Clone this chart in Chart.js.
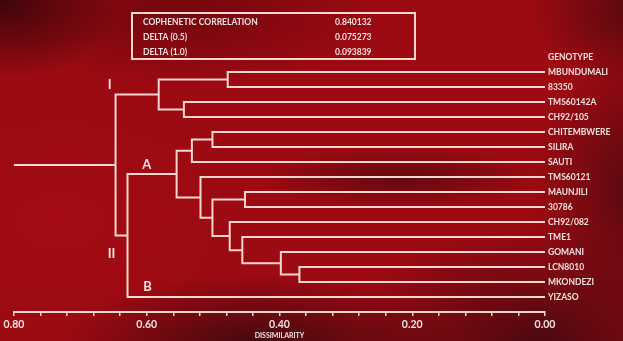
<!DOCTYPE html>
<html>
<head>
<meta charset="utf-8">
<script src="https://cdn.jsdelivr.net/npm/chart.js@4/dist/chart.umd.min.js"></script>
<style>
  html, body { margin: 0; padding: 0; }
  body {
    width: 623px; height: 341px; overflow: hidden;
    background:
      radial-gradient(ellipse 120px 80px at 0px 0px, rgba(50,4,10,0.9), transparent),
      radial-gradient(ellipse 200px 70px at 260px 345px, rgba(50,8,14,0.85), transparent),
      radial-gradient(ellipse 200px 120px at 540px 345px, rgba(55,8,16,0.8), transparent),
      radial-gradient(ellipse 110px 140px at 640px 190px, rgba(55,8,16,0.7), transparent),
      radial-gradient(ellipse 140px 30px at 400px 178px, rgba(50,8,14,0.55), transparent),
      radial-gradient(ellipse 110px 80px at 640px 10px, rgba(60,8,14,0.75), transparent),
      radial-gradient(ellipse 200px 70px at 180px 15px, rgba(80,4,10,0.55), transparent),
      radial-gradient(ellipse 160px 100px at 60px 220px, rgba(180,14,20,0.35), transparent),
      #9c0a12;
  }
  #wrap { position: relative; width: 623px; height: 341px; }
</style>
</head>
<body>
<div id="wrap"><canvas id="dendro"></canvas></div>
<script>
// Дендрограма на генотипове
const genotypes = ['MBUNDUMALI', '83350', 'TMS60142A', 'CH92/105', 'CHITEMBWERE', 'SILIRA',
  'SAUTI', 'TMS60121', 'MAUNJILI', '30786', 'CH92/082', 'TME1', 'GOMANI', 'LCN8010',
  'MKONDEZI', 'YIZASO'];
const headerLabel = 'GENOTYPE';

// сливания като в hclust: -k = лист k, k = предишно сливане k
const mergeLeft  = [-14, -13, -9, -12, -11, -1, -5, 3, -8, 7, -3, 10, 6, 12, 13];
const mergeRight = [-15,   1, -10,  2,   4, -2, -6, 5,  8, -7, -4,  9, 11, -16, 14];
const mergeHeight = [0.370, 0.398, 0.452, 0.456, 0.475, 0.478, 0.501, 0.501, 0.519,
  0.532, 0.544, 0.555, 0.582, 0.629, 0.647];

const xTickLabels = [0.80, 0.60, 0.40, 0.20, 0.00];
const statNames = ['COPHENETIC CORRELATION', 'DELTA (0.5)', 'DELTA (1.0)'];
const statValues = ['0.840132', '0.075273', '0.093839'];
const clusterNames = ['I', 'II', 'A', 'B'];

// позиции на надписите в координати на скалите
const clusterPos = [[0.656, 0.87], [0.653, 12.1], [0.600, 6.2], [0.599, 14.3]];

const lineColor = 'rgb(246, 214, 206)';
const textColor = 'rgb(244, 226, 222)';
const fontFamily = 'Lato, "Open Sans", sans-serif';

// височина и позиция на всеки възел
const nodeY = [];
function childPos(c) {
  if (c < 0) return { h: 0, y: -c - 1 };
  return { h: mergeHeight[c - 1], y: nodeY[c - 1] };
}

const datasets = [];
mergeLeft.forEach((l, i) => {
  const a = childPos(l);
  const b = childPos(mergeRight[i]);
  const h = mergeHeight[i];
  nodeY.push((a.y + b.y) / 2);
  datasets.push({
    data: [{ x: a.h, y: a.y }, { x: h, y: a.y }, { x: h, y: b.y }, { x: b.h, y: b.y }]
  });
});
// стъбло на корена до края на оста
const rootY = nodeY[nodeY.length - 1];
datasets.push({ data: [{ x: mergeHeight[mergeHeight.length - 1], y: rootY }, { x: 0.8, y: rootY }] });

datasets.forEach(d => {
  d.showLine = true;
  d.borderColor = lineColor;
  d.borderWidth = 2;
  d.pointRadius = 0;
  d.tension = 0;
  d.fill = false;
});

const overlay = {
  id: 'overlay',
  afterDraw(chart) {
    const ctx = chart.ctx;
    const xs = chart.scales.x, ys = chart.scales.y;
    ctx.save();
    // надписи на клъстерите
    ctx.fillStyle = textColor;
    ctx.font = 'bold 13px ' + fontFamily;
    ctx.textAlign = 'center';
    ctx.textBaseline = 'middle';
    clusterNames.forEach((n, i) => {
      ctx.fillText(n, xs.getPixelForValue(clusterPos[i][0]), ys.getPixelForValue(clusterPos[i][1]));
    });
    // таблица със статистики
    ctx.strokeStyle = lineColor;
    ctx.lineWidth = 2;
    ctx.strokeRect(132, 13, 283, 46);
    ctx.font = 'bold 8.5px ' + fontFamily;
    ctx.textAlign = 'left';
    statNames.forEach((n, i) => {
      const y = 22.5 + i * 15;
      ctx.fillText(n, 143, y);
      ctx.fillText(statValues[i], 335, y);
    });
    ctx.restore();
  }
};

new Chart(document.getElementById('dendro'), {
  type: 'scatter',
  data: { datasets: datasets },
  plugins: [overlay],
  options: {
    responsive: true,
    maintainAspectRatio: false,
    animation: false,
    layout: { padding: { top: 57, left: 14, right: 0, bottom: 0 } },
    plugins: { legend: { display: false }, tooltip: { enabled: false } },
    scales: {
      x: {
        type: 'linear',
        reverse: true,
        min: 0,
        max: 0.8,
        afterFit: s => { s.height = 29; },
        ticks: {
          stepSize: 0.04,
          autoSkip: false,
          maxRotation: 0,
          padding: 2,
          color: textColor,
          font: { family: fontFamily, size: 10.5, weight: 'bold' },
          callback: v => {
            const hit = xTickLabels.find(t => Math.abs(t - v) < 1e-6);
            return hit === undefined ? '' : hit.toFixed(2);
          }
        },
        grid: { drawOnChartArea: false, drawTicks: true, tickLength: 4, color: lineColor, lineWidth: 1.5 },
        border: { display: true, color: lineColor, width: 2 },
        title: {
          display: true,
          text: 'DISSIMILARITY',
          color: textColor,
          font: { family: fontFamily, size: 7, weight: 'bold' },
          padding: { top: 0, bottom: 1 }
        }
      },
      y: {
        type: 'linear',
        position: 'right',
        reverse: true,
        min: -1,
        max: 16,
        afterFit: s => { s.width = 78; },
        ticks: {
          stepSize: 1,
          autoSkip: false,
          padding: 3,
          color: textColor,
          font: { family: fontFamily, size: 8.5, weight: 'bold' },
          callback: v => v === -1 ? headerLabel : (genotypes[v] || '')
        },
        grid: { display: false, drawTicks: false },
        border: { display: false }
      }
    }
  }
});
</script>
</body>
</html>
